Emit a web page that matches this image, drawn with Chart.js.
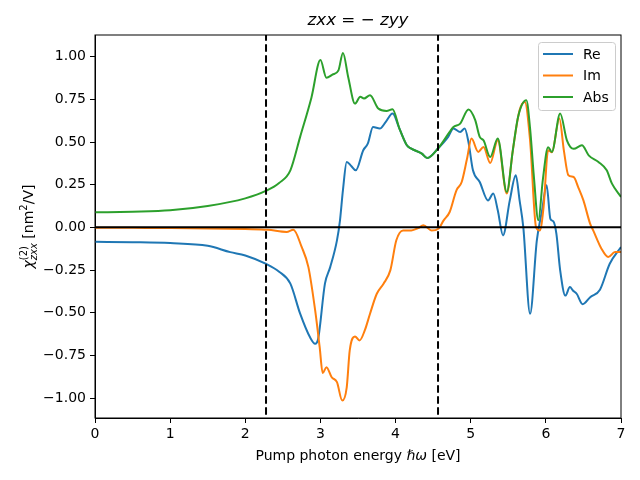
<!DOCTYPE html>
<html>
<head>
<meta charset="utf-8">
<script src="https://cdn.jsdelivr.net/npm/chart.js@4.4.1/dist/chart.umd.min.js"></script>
<style>
  body { margin: 0; background: #fff; }
  canvas { display: block; }
</style>
</head>
<body>
<canvas id="chi2Chart" width="640" height="480"></canvas>
<script>
// --- data (energy in eV, chi2 in nm^2/V) ---
const reEnergy = [0, 0.5, 1.0, 1.5, 1.8, 2.0, 2.27, 2.45, 2.60, 2.73, 2.86, 2.93, 2.97, 3.06, 3.13, 3.22, 3.26, 3.30, 3.35, 3.41, 3.47, 3.57, 3.63, 3.70, 3.79, 3.87, 3.96, 4.05, 4.15, 4.21, 4.35, 4.42, 4.57, 4.70, 4.77, 4.86, 4.92, 4.97, 5.03, 5.12, 5.23, 5.30, 5.36, 5.43, 5.52, 5.60, 5.65, 5.70, 5.79, 5.88, 5.95, 6.01, 6.06, 6.10, 6.14, 6.19, 6.26, 6.32, 6.36, 6.41, 6.49, 6.59, 6.72, 6.85, 7.0];
const reValues = [-0.085, -0.087, -0.092, -0.108, -0.145, -0.165, -0.213, -0.26, -0.33, -0.506, -0.643, -0.682, -0.653, -0.33, -0.233, -0.076, 0.04, 0.22, 0.383, 0.36, 0.334, 0.452, 0.49, 0.588, 0.579, 0.618, 0.667, 0.58, 0.481, 0.461, 0.432, 0.406, 0.465, 0.53, 0.579, 0.559, 0.579, 0.5, 0.334, 0.266, 0.158, 0.198, 0.1, -0.047, 0.158, 0.305, 0.16, 0.0, -0.506, -0.076, 0.1, 0.246, 0.05, 0.035, -0.037, -0.25, -0.40, -0.35, -0.37, -0.389, -0.45, -0.409, -0.365, -0.213, -0.115];

const imEnergy = [0, 0.5, 1.0, 1.5, 2.0, 2.3, 2.55, 2.64, 2.75, 2.84, 2.93, 2.99, 3.03, 3.08, 3.15, 3.22, 3.29, 3.35, 3.39, 3.46, 3.52, 3.59, 3.66, 3.75, 3.84, 3.93, 4.01, 4.10, 4.21, 4.30, 4.37, 4.48, 4.57, 4.64, 4.72, 4.81, 4.88, 4.95, 5.01, 5.10, 5.17, 5.26, 5.36, 5.48, 5.56, 5.65, 5.72, 5.79, 5.87, 5.92, 5.97, 6.03, 6.08, 6.18, 6.24, 6.30, 6.37, 6.43, 6.50, 6.59, 6.63, 6.74, 6.83, 6.92, 7.0];
const imValues = [-0.002, -0.003, -0.004, -0.006, -0.01, -0.014, -0.027, -0.014, -0.115, -0.233, -0.487, -0.702, -0.854, -0.819, -0.878, -0.907, -1.015, -0.937, -0.721, -0.639, -0.663, -0.604, -0.506, -0.389, -0.33, -0.252, -0.076, -0.018, -0.018, -0.005, 0.012, -0.018, -0.008, 0.041, 0.09, 0.217, 0.266, 0.4, 0.52, 0.442, 0.471, 0.377, 0.51, 0.198, 0.45, 0.686, 0.735, 0.51, 0.0, -0.018, 0.12, 0.452, 0.44, 0.638, 0.45, 0.305, 0.295, 0.236, 0.158, 0.02, -0.018, -0.125, -0.174, -0.145, -0.145];

const absEnergy = [0, 0.5, 1.0, 1.5, 2.0, 2.28, 2.45, 2.6, 2.73, 2.88, 3.0, 3.08, 3.16, 3.24, 3.30, 3.37, 3.46, 3.53, 3.58, 3.66, 3.77, 3.88, 3.96, 4.05, 4.15, 4.21, 4.35, 4.42, 4.57, 4.72, 4.77, 4.86, 4.97, 5.06, 5.12, 5.17, 5.26, 5.36, 5.48, 5.56, 5.63, 5.74, 5.79, 5.84, 5.90, 5.96, 6.03, 6.08, 6.19, 6.28, 6.37, 6.48, 6.57, 6.70, 6.81, 6.88, 7.0];
const absValues = [0.088, 0.092, 0.10, 0.125, 0.17, 0.215, 0.26, 0.334, 0.53, 0.76, 0.98, 0.876, 0.895, 0.92, 1.022, 0.88, 0.725, 0.765, 0.755, 0.774, 0.696, 0.682, 0.692, 0.58, 0.481, 0.461, 0.432, 0.406, 0.465, 0.559, 0.588, 0.608, 0.690, 0.628, 0.53, 0.51, 0.412, 0.52, 0.207, 0.45, 0.647, 0.745, 0.58, 0.3, 0.041, 0.28, 0.47, 0.442, 0.667, 0.51, 0.46, 0.481, 0.422, 0.383, 0.334, 0.256, 0.178];

// band edges marked with dashed lines
const markerEnergies = [2.276, 4.565];

const xTicks = [0, 1, 2, 3, 4, 5, 6, 7];
const yTicks = [-1, -0.75, -0.5, -0.25, 0, 0.25, 0.5, 0.75, 1];
const seriesLabels = ['Re', 'Im', 'Abs'];
const seriesColors = ['#1f77b4', '#ff7f0e', '#2ca02c'];

const FONT = 'DejaVu Sans';

function toPoints(xs, ys) {
    return xs.map((x, i) => ({ x: x, y: ys[i] }));
}

const curveStyle = {
    borderWidth: 2,
    pointRadius: 0,
    fill: false,
    cubicInterpolationMode: 'monotone'
};

const datasets = [
    Object.assign({ label: seriesLabels[0], data: toPoints(reEnergy, reValues), borderColor: seriesColors[0], order: 3 }, curveStyle),
    Object.assign({ label: seriesLabels[1], data: toPoints(imEnergy, imValues), borderColor: seriesColors[1], order: 2 }, curveStyle),
    Object.assign({ label: seriesLabels[2], data: toPoints(absEnergy, absValues), borderColor: seriesColors[2], order: 1 }, curveStyle),
    // zero line
    { label: 'zero', data: [{ x: 0, y: 0 }, { x: 7, y: 0 }], borderColor: '#000', borderWidth: 2, pointRadius: 0, order: 0 }
];
markerEnergies.forEach(e => {
    datasets.push({
        label: 'edge',
        data: [{ x: e, y: -2 }, { x: e, y: 2 }],
        borderColor: '#000', borderWidth: 2, borderDash: [7.5, 3.5],
        pointRadius: 0, order: 0
    });
});

// frame, title, axis labels and the legend box
const decorations = {
    id: 'decorations',
    afterDraw(chart) {
        const c = chart.ctx;
        const a = chart.chartArea;
        c.save();

        c.strokeStyle = '#000';
        c.lineWidth = 1;
        c.strokeRect(a.left, a.top, a.right - a.left, a.bottom - a.top);

        c.fillStyle = '#000';
        c.textBaseline = 'alphabetic';

        // title
        c.font = 'italic 16.7px "' + FONT + '"';
        c.textAlign = 'center';
        c.fillText('zxx = − zyy', (a.left + a.right) / 2, 25);

        // x label, with the italic hbar omega
        const cx = (a.left + a.right) / 2;
        const p1 = 'Pump photon energy ', p2 = 'ℏω', p3 = ' [eV]';
        c.font = '14px "' + FONT + '"';
        const w1 = c.measureText(p1).width, w3 = c.measureText(p3).width;
        c.font = 'italic 14px "' + FONT + '"';
        const w2 = c.measureText(p2).width;
        let x = cx - (w1 + w2 + w3) / 2;
        c.textAlign = 'left';
        c.font = '14px "' + FONT + '"';
        c.fillText(p1, x, 460);
        c.font = 'italic 14px "' + FONT + '"';
        c.fillText(p2, x + w1, 460);
        c.font = '14px "' + FONT + '"';
        c.fillText(p3, x + w1 + w2, 460);

        // y label: chi^(2)_zxx [nm^2/V], rotated
        c.save();
        c.translate(33, (a.top + a.bottom) / 2);
        c.rotate(-Math.PI / 2);
        const big = '14px "' + FONT + '"';
        const small = '10px "' + FONT + '"';
        const smallIt = 'italic 10px "' + FONT + '"';
        c.font = 'italic ' + big; const wChi = c.measureText('χ').width;
        c.font = small; const wSup = c.measureText('(2)').width;
        c.font = smallIt; const wSub = c.measureText('zxx').width;
        c.font = big; const wA = c.measureText(' [nm').width;
        c.font = small; const wTwo = c.measureText('2').width;
        c.font = big; const wB = c.measureText('/V]').width;
        const wScript = Math.max(wSup, wSub);
        let px = -(wChi + wScript + wA + wTwo + wB) / 2;
        c.textAlign = 'left';
        c.font = 'italic ' + big; c.fillText('χ', px, 0); px += wChi;
        c.font = small; c.fillText('(2)', px, -6);
        c.font = smallIt; c.fillText('zxx', px, 4); px += wScript;
        c.font = big; c.fillText(' [nm', px, 0); px += wA;
        c.font = small; c.fillText('2', px, -6); px += wTwo;
        c.font = big; c.fillText('/V]', px, 0);
        c.restore();

        // legend, upper right inside the axes
        const lx = 538, ly = 42, lw = 77, lh = 68;
        c.beginPath();
        c.roundRect(lx + 0.5, ly + 0.5, lw, lh, 3);
        c.fillStyle = 'rgba(255,255,255,0.8)';
        c.fill();
        c.strokeStyle = '#cccccc';
        c.stroke();
        c.font = '14px "' + FONT + '"';
        c.textBaseline = 'middle';
        seriesLabels.forEach((lab, i) => {
            const ry = 54 + i * 21.5;
            c.strokeStyle = seriesColors[i];
            c.lineWidth = 2;
            c.beginPath();
            c.moveTo(543, ry);
            c.lineTo(573, ry);
            c.stroke();
            c.fillStyle = '#000';
            c.fillText(lab, 583, ry + 1);
        });

        c.restore();
    }
};

const tickFont = { family: FONT, size: 14 };

new Chart(document.getElementById('chi2Chart').getContext('2d'), {
    type: 'line',
    data: { datasets: datasets },
    options: {
        responsive: false,
        animation: false,
        events: [],
        layout: { padding: { top: 35, right: 19, left: 0, bottom: 0 } },
        plugins: {
            legend: { display: false },
            title: { display: false },
            tooltip: { enabled: false }
        },
        scales: {
            x: {
                type: 'linear',
                min: 0,
                max: 7,
                afterBuildTicks: s => { s.ticks = xTicks.map(v => ({ value: v })); },
                afterFit: s => { s.height = 62; },
                grid: { display: true, drawOnChartArea: false, drawTicks: true, tickLength: 5, tickColor: '#000', tickWidth: 1 },
                border: { display: true, color: '#000', width: 1 },
                ticks: { color: '#000', font: tickFont, padding: 3, maxRotation: 0, autoSkip: false, callback: v => String(v) }
            },
            y: {
                type: 'linear',
                min: -1.117,
                max: 1.127,
                afterBuildTicks: s => { s.ticks = yTicks.map(v => ({ value: v })); },
                afterFit: s => { s.width = 95; },
                grid: { display: true, drawOnChartArea: false, drawTicks: true, tickLength: 5, tickColor: '#000', tickWidth: 1 },
                border: { display: true, color: '#000', width: 1 },
                ticks: {
                    color: '#000', font: tickFont, padding: 4, autoSkip: false,
                    callback: v => (v < 0 ? '−' : '') + Math.abs(v).toFixed(2)
                }
            }
        }
    },
    plugins: [decorations]
});
</script>
</body>
</html>
